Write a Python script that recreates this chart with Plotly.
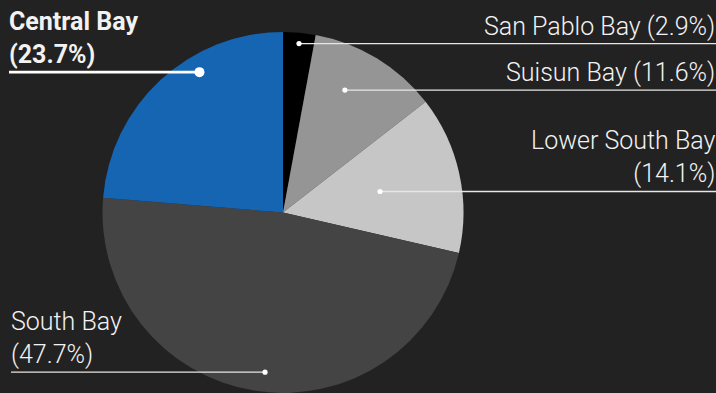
import math
import plotly.graph_objects as go

# Share of area by bay segment (percent), clockwise from 12 o'clock
segments = ["San Pablo Bay", "Suisun Bay", "Lower South Bay", "South Bay", "Central Bay"]
shares = [2.9, 11.6, 14.1, 47.7, 23.7]
label_text = [
    "San Pablo Bay (2.9%)",
    "Suisun Bay (11.6%)",
    "Lower South Bay<br>(14.1%)",
    "South Bay<br>(47.7%)",
    "<b>Central Bay<br>(23.7%)</b>",
]
colors = ["#000000", "#959595", "#c6c6c6", "#444444", "#1565b3"]

W, H = 716, 393
BG = "#222222"

# pie geometry in pixels
CX, CY, R = 283.0, 212.5, 180.5

# leader placement per segment: (radius fraction, angle nudge deg, side, highlight)
leader = [
    (0.94, 0.2, "right", False),
    (0.76, -4.5, "right", False),
    (0.55, 0.2, "right", False),
    (0.89, -2.4, "left", False),
    (0.905, 11.9, "left", True),
]


def px(x):
    return x / W


def py(y):
    return 1 - y / H


fig = go.Figure()
fig.add_trace(go.Pie(
    labels=segments,
    values=shares,
    sort=False,
    direction="clockwise",
    rotation=0,
    marker=dict(colors=colors, line=dict(width=0)),
    textinfo="none",
    hoverinfo="label+percent",
    showlegend=False,
    domain=dict(x=[px(CX - R), px(CX + R)], y=[max(0, py(CY + R)), py(CY - R)]),
))

shapes = []
annotations = []
total = sum(shares)
cum = 0.0
for name, val, txt, (rf, nudge, side, hi) in zip(segments, shares, label_text, leader):
    mid = (cum + val / 2) / total * 360.0 + nudge
    cum += val
    a = math.radians(mid)
    dx = CX + rf * R * math.sin(a)
    dy = CY - rf * R * math.cos(a)
    lw = 2.6 if hi else 1.4
    dr = 5.0 if hi else 2.6
    lc = "#ffffff" if hi else "#e6e6e6"
    if side == "right":
        x0, x1 = dx, W
    else:
        x0, x1 = 9 if hi else 11, dx
    shapes.append(dict(type="line", xref="paper", yref="paper",
                       x0=px(x0), x1=px(x1), y0=py(dy), y1=py(dy),
                       line=dict(color=lc, width=lw), layer="above"))
    shapes.append(dict(type="circle", xref="paper", yref="paper",
                       x0=px(dx - dr), x1=px(dx + dr), y0=py(dy + dr), y1=py(dy - dr),
                       fillcolor="#ffffff", line=dict(width=0), layer="above"))
    annotations.append(dict(
        text=txt, xref="paper", yref="paper",
        x=px(W + 1) if side == "right" else px(x0 - 2),
        y=py(dy - 1),
        xanchor="right" if side == "right" else "left",
        yanchor="bottom",
        align="right" if side == "right" else "left",
        showarrow=False,
        font=dict(family="Roboto", size=25, color="#f2f2f2",
                  weight=500 if hi else 300),
    ))

fig.update_layout(
    width=W, height=H,
    margin=dict(l=0, r=0, t=0, b=0),
    paper_bgcolor=BG, plot_bgcolor=BG,
    shapes=shapes, annotations=annotations,
    font=dict(family="Roboto"),
)

fig.write_html("out.html")
